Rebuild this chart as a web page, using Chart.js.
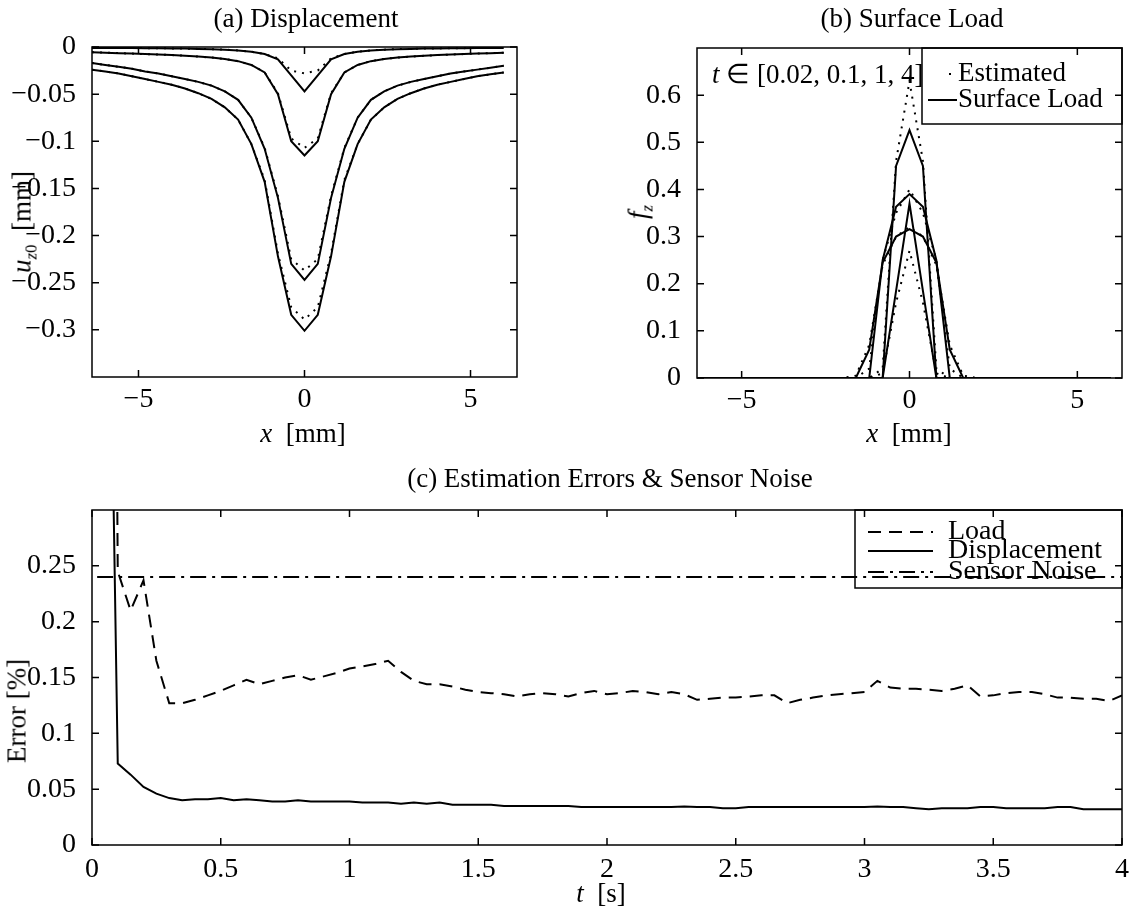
<!DOCTYPE html>
<html>
<head>
<meta charset="utf-8">
<script src="https://cdn.jsdelivr.net/npm/chart.js@4.4.1/dist/chart.umd.min.js"></script>
<style>
  body { margin: 0; background: #fff; width: 1130px; height: 920px; position: relative; overflow: hidden;
         font-family: "Liberation Serif", "Times New Roman", serif; color: #000; }
  canvas { position: absolute; }
  .lbl { position: absolute; transform: translate(-50%, -50%); white-space: nowrap; font-size: 27px; line-height: 1; }
  .rot { transform: translate(-50%, -50%) rotate(-90deg); }
  sub { font-size: 0.62em; vertical-align: -0.35em; line-height: 0; }
</style>
</head>
<body>
<canvas id="chartA" width="565" height="460" style="left:0;top:0"></canvas>
<canvas id="chartB" width="565" height="460" style="left:565px;top:0"></canvas>
<canvas id="chartC" width="1130" height="460" style="left:0;top:460px"></canvas>

<div class="lbl" style="left:306px;top:18px">(a) Displacement</div>
<div class="lbl" style="left:912px;top:18px">(b) Surface Load</div>
<div class="lbl" style="left:610px;top:478px">(c) Estimation Errors &amp; Sensor Noise</div>

<div class="lbl" style="left:303px;top:433px"><i>x</i>&nbsp;&nbsp;[mm]</div>
<div class="lbl" style="left:909px;top:433px"><i>x</i>&nbsp;&nbsp;[mm]</div>
<div class="lbl" style="left:601px;top:893px"><i>t</i>&nbsp;&nbsp;[s]</div>

<div class="lbl rot" style="left:22px;top:222px"><i>u</i><sub><i>z</i>0</sub>&nbsp;&nbsp;[mm]</div>
<div class="lbl rot" style="left:638px;top:212px"><i>f</i><sub><i>z</i></sub></div>
<div class="lbl rot" style="left:17px;top:711px">Error [%]</div>

<div class="lbl" style="left:712px;top:74px;transform:translate(0,-50%)"><i>t</i> ∈ [0.02, 0.1, 1, 4]</div>

<script>
// x positions shared by (a) and (b), mm
const xGrid = [-6.4,-6.0,-5.6,-5.2,-4.8,-4.4,-4.0,-3.6,-3.2,-2.8,-2.4,-2.0,-1.6,-1.2,-0.8,-0.4,0,0.4,0.8,1.2,1.6,2.0,2.4,2.8,3.2,3.6,4.0,4.4,4.8,5.2,5.6,6.0];

// (a) displacement u_z0 [mm] at t = 0.02, 0.1, 1, 4
const dispTrue002 = [-0.001,-0.001,-0.001,-0.0011,-0.0012,-0.0013,-0.0015,-0.0017,-0.002,-0.0023,-0.0028,-0.0036,-0.005,-0.0075,-0.013,-0.030,-0.047,-0.030,-0.013,-0.0075,-0.005,-0.0036,-0.0028,-0.0023,-0.002,-0.0017,-0.0015,-0.0013,-0.0012,-0.0011,-0.001,-0.001];
const dispEst002  = [-0.001,-0.001,-0.001,-0.0011,-0.0012,-0.0013,-0.0015,-0.0017,-0.002,-0.0023,-0.0028,-0.0036,-0.005,-0.0075,-0.012,-0.025,-0.028,-0.025,-0.012,-0.0075,-0.005,-0.0036,-0.0028,-0.0023,-0.002,-0.0017,-0.0015,-0.0013,-0.0012,-0.0011,-0.001,-0.001];
const dispTrue01  = [-0.0056,-0.006,-0.0065,-0.007,-0.0075,-0.008,-0.0086,-0.0093,-0.0102,-0.0112,-0.0127,-0.015,-0.019,-0.027,-0.050,-0.100,-0.115,-0.100,-0.050,-0.027,-0.019,-0.015,-0.0127,-0.0112,-0.0102,-0.0093,-0.0086,-0.008,-0.0075,-0.007,-0.0065,-0.006];
const dispEst01   = [-0.0056,-0.006,-0.0065,-0.007,-0.0075,-0.008,-0.0086,-0.0093,-0.0102,-0.0112,-0.0127,-0.015,-0.019,-0.027,-0.049,-0.097,-0.107,-0.097,-0.049,-0.027,-0.019,-0.015,-0.0127,-0.0112,-0.0102,-0.0093,-0.0086,-0.008,-0.0075,-0.007,-0.0065,-0.006];
const dispTrue1   = [-0.017,-0.019,-0.021,-0.023,-0.026,-0.028,-0.031,-0.034,-0.037,-0.041,-0.047,-0.056,-0.075,-0.108,-0.160,-0.230,-0.247,-0.230,-0.160,-0.108,-0.075,-0.056,-0.047,-0.041,-0.037,-0.034,-0.031,-0.028,-0.026,-0.024,-0.022,-0.020];
const dispEst1    = [-0.017,-0.019,-0.021,-0.023,-0.026,-0.028,-0.031,-0.034,-0.037,-0.041,-0.047,-0.056,-0.075,-0.107,-0.158,-0.225,-0.237,-0.225,-0.158,-0.107,-0.075,-0.056,-0.047,-0.041,-0.037,-0.034,-0.031,-0.028,-0.026,-0.024,-0.022,-0.020];
const dispTrue4   = [-0.024,-0.026,-0.028,-0.031,-0.034,-0.037,-0.040,-0.044,-0.049,-0.055,-0.064,-0.077,-0.103,-0.143,-0.222,-0.284,-0.301,-0.284,-0.222,-0.143,-0.103,-0.077,-0.064,-0.055,-0.049,-0.044,-0.040,-0.037,-0.034,-0.031,-0.029,-0.027];
const dispEst4    = [-0.024,-0.026,-0.028,-0.031,-0.034,-0.037,-0.040,-0.044,-0.049,-0.055,-0.064,-0.077,-0.103,-0.141,-0.219,-0.276,-0.289,-0.276,-0.219,-0.141,-0.103,-0.077,-0.064,-0.055,-0.049,-0.044,-0.040,-0.037,-0.034,-0.031,-0.029,-0.027];

// (b) surface load f_z at the same times
const loadTrue002 = [0,0,0,0,0,0,0,0,0,0,0,0,0,0,0,0.185,0.37,0.185,0,0,0,0,0,0,0,0,0,0,0,0,0,0];
const loadEst002  = [0,0,0,0,0,0,0,0,0,0,0,0,0,0,0.01,0.16,0.27,0.16,0.01,0,0,0,0,0,0,0,0,0,0,0,0,0];
const loadTrue01  = [0,0,0,0,0,0,0,0,0,0,0,0,0,0,0,0.45,0.526,0.45,0,0,0,0,0,0,0,0,0,0,0,0,0,0];
const loadEst01   = [0,0,0,0,0,0,0,0,0,0,0,0,0,0,0.02,0.46,0.63,0.46,0.02,0,0,0,0,0,0,0,0,0,0,0,0,0];
const loadTrue1   = [0,0,0,0,0,0,0,0,0,0,0,0,0,0,0.25,0.363,0.39,0.363,0.25,0,0,0,0,0,0,0,0,0,0,0,0,0];
const loadEst1    = [0,0,0,0,0,0,0,0,0,0,0,0,0,0.02,0.25,0.35,0.40,0.35,0.25,0.02,0,0,0,0,0,0,0,0,0,0,0,0];
const loadTrue4   = [0,0,0,0,0,0,0,0,0,0,0,0,0,0.06,0.245,0.30,0.316,0.30,0.245,0.06,0,0,0,0,0,0,0,0,0,0,0,0];
const loadEst4    = [0,0,0,0,0,0,0,0,0,0,0,0,0.005,0.07,0.24,0.30,0.32,0.30,0.24,0.07,0.005,0,0,0,0,0,0,0,0,0,0,0];

// (c) errors over time [s]
const timeS = [0.08,0.1,0.15,0.2,0.25,0.3,0.35,0.4,0.45,0.5,
  0.55,0.6,0.65,0.7,0.75,0.8,0.85,0.9,0.95,1.0,
  1.05,1.1,1.15,1.2,1.25,1.3,1.35,1.4,1.45,1.5,
  1.55,1.6,1.65,1.7,1.75,1.8,1.85,1.9,1.95,2.0,
  2.05,2.1,2.15,2.2,2.25,2.3,2.35,2.4,2.45,2.5,
  2.55,2.6,2.65,2.7,2.75,2.8,2.85,2.9,2.95,3.0,
  3.05,3.1,3.15,3.2,3.25,3.3,3.35,3.4,3.45,3.5,
  3.55,3.6,3.65,3.7,3.75,3.8,3.85,3.9,3.95,4.0];
const loadErr = [0.9,0.245,0.21,0.237,0.165,0.127,0.127,0.130,0.134,0.138,
  0.143,0.148,0.144,0.147,0.150,0.152,0.148,0.151,0.154,0.158,
  0.160,0.162,0.165,0.155,0.147,0.144,0.144,0.142,0.139,0.137,
  0.136,0.135,0.133,0.135,0.136,0.135,0.133,0.136,0.138,0.135,
  0.136,0.138,0.137,0.135,0.137,0.135,0.130,0.131,0.132,0.132,
  0.133,0.134,0.134,0.127,0.130,0.132,0.134,0.135,0.136,0.137,
  0.147,0.141,0.140,0.140,0.139,0.138,0.140,0.143,0.133,0.134,
  0.136,0.137,0.137,0.135,0.132,0.132,0.131,0.131,0.129,0.134];
const dispErr = [0.36,0.073,0.063,0.052,0.046,0.042,0.040,0.041,0.041,0.042,
  0.040,0.041,0.040,0.039,0.039,0.040,0.039,0.039,0.039,0.039,
  0.038,0.038,0.038,0.037,0.038,0.037,0.038,0.036,0.036,0.036,
  0.036,0.035,0.035,0.035,0.035,0.035,0.035,0.034,0.034,0.034,
  0.034,0.034,0.034,0.034,0.034,0.0345,0.034,0.034,0.033,0.033,
  0.034,0.034,0.034,0.034,0.034,0.034,0.034,0.034,0.034,0.034,
  0.0345,0.034,0.034,0.033,0.032,0.033,0.033,0.033,0.034,0.034,
  0.033,0.033,0.033,0.033,0.034,0.034,0.032,0.032,0.032,0.032];
const noiseT = [0.02, 4];
const noiseErr = [0.24, 0.24];

// tick values
const xTicksAB = [-5, 0, 5];
const yTicksA = [0, -0.05, -0.1, -0.15, -0.2, -0.25, -0.3];
const yTicksB = [0, 0.1, 0.2, 0.3, 0.4, 0.5, 0.6];
const xTicksC = [0, 0.5, 1, 1.5, 2, 2.5, 3, 3.5, 4];
const yTicksC = [0, 0.05, 0.1, 0.15, 0.2, 0.25];

const FONT = '"Liberation Serif", "Times New Roman", serif';
const DOTTED = [2, 6];
const DASHED = [13, 8];
const DASHDOT = [16, 6, 3, 6];

function pts(xs, ys) {
  return xs.map((x, i) => ({ x, y: ys[i] }));
}

function line(xs, ys, dash) {
  return {
    data: pts(xs, ys),
    borderColor: '#000',
    borderWidth: 2,
    borderDash: dash || [],
    pointRadius: 0,
    tension: 0,
    fill: false
  };
}

function fmt(v) {
  return String(v).replace('-', '\u2212');
}

// MATLAB style box with inward ticks on all four sides
const framePlugin = {
  id: 'frame',
  afterDatasetsDraw(chart) {
    const { ctx, chartArea: a, scales } = chart;
    const len = 7;
    ctx.save();
    ctx.strokeStyle = '#000';
    ctx.lineWidth = 1.5;
    ctx.setLineDash([]);
    ctx.strokeRect(a.left, a.top, a.right - a.left, a.bottom - a.top);
    ctx.beginPath();
    scales.x.ticks.forEach(t => {
      const p = scales.x.getPixelForValue(t.value);
      ctx.moveTo(p, a.bottom); ctx.lineTo(p, a.bottom - len);
      ctx.moveTo(p, a.top); ctx.lineTo(p, a.top + len);
    });
    scales.y.ticks.forEach(t => {
      const p = scales.y.getPixelForValue(t.value);
      ctx.moveTo(a.left, p); ctx.lineTo(a.left + len, p);
      ctx.moveTo(a.right, p); ctx.lineTo(a.right - len, p);
    });
    ctx.stroke();
    ctx.restore();
  }
};

// boxed legend in the top right corner of the plot
const boxLegend = {
  id: 'boxLegend',
  afterDraw(chart, args, opts) {
    if (!opts.items || !opts.items.length) return;
    const { ctx, chartArea: a } = chart;
    const x0 = a.right - opts.width;
    const y0 = a.top;
    ctx.save();
    ctx.strokeStyle = '#000';
    ctx.fillStyle = '#000';
    ctx.lineWidth = 1.5;
    ctx.strokeRect(x0, y0, opts.width, opts.height);
    ctx.font = opts.fontSize + 'px ' + FONT;
    ctx.textBaseline = 'middle';
    opts.items.forEach(it => {
      const ds = chart.data.datasets[it.dataset];
      const y = y0 + it.y;
      ctx.lineWidth = ds.borderWidth;
      ctx.setLineDash(ds.borderDash || []);
      ctx.beginPath();
      ctx.moveTo(x0 + it.from, y);
      ctx.lineTo(x0 + it.to, y);
      ctx.stroke();
      ctx.setLineDash([]);
      ctx.fillText(it.text, x0 + opts.textX, y);
    });
    ctx.restore();
  }
};

function makeOptions(cfg) {
  return {
    responsive: false,
    animation: false,
    layout: { padding: cfg.pad },
    plugins: {
      legend: { display: false },
      tooltip: { enabled: false },
      boxLegend: cfg.legend || { items: [] }
    },
    scales: {
      x: {
        type: 'linear',
        min: cfg.xMin, max: cfg.xMax,
        grid: { display: false },
        border: { display: false },
        ticks: { color: '#000', font: { family: FONT, size: 28 }, padding: cfg.xPad, callback: fmt, maxRotation: 0 },
        afterBuildTicks: s => { s.ticks = cfg.xTicks.map(v => ({ value: v })); },
        afterFit: s => { s.height = cfg.xHeight; }
      },
      y: {
        type: 'linear',
        min: cfg.yMin, max: cfg.yMax,
        grid: { display: false },
        border: { display: false },
        ticks: { color: '#000', font: { family: FONT, size: 28 }, padding: 8, callback: fmt },
        afterBuildTicks: s => { s.ticks = cfg.yTicks.map(v => ({ value: v })); },
        afterFit: s => { s.width = cfg.yWidth; }
      }
    }
  };
}

new Chart(document.getElementById('chartA'), {
  type: 'line',
  data: {
    datasets: [
      line(xGrid, dispEst002, DOTTED), line(xGrid, dispEst01, DOTTED),
      line(xGrid, dispEst1, DOTTED), line(xGrid, dispEst4, DOTTED),
      line(xGrid, dispTrue002), line(xGrid, dispTrue01),
      line(xGrid, dispTrue1), line(xGrid, dispTrue4)
    ]
  },
  options: makeOptions({
    xMin: -6.4, xMax: 6.4, yMin: -0.35, yMax: 0,
    xTicks: xTicksAB, yTicks: yTicksA,
    pad: { left: 0, top: 47, right: 48, bottom: 0 },
    yWidth: 92, xHeight: 83, xPad: -2
  }),
  plugins: [framePlugin, boxLegend]
});

new Chart(document.getElementById('chartB'), {
  type: 'line',
  data: {
    datasets: [
      line(xGrid, loadEst002, DOTTED), line(xGrid, loadEst01, DOTTED),
      line(xGrid, loadEst1, DOTTED), line(xGrid, loadEst4, DOTTED),
      line(xGrid, loadTrue002), line(xGrid, loadTrue01),
      line(xGrid, loadTrue1), line(xGrid, loadTrue4)
    ]
  },
  options: makeOptions({
    xMin: -6.33, xMax: 6.33, yMin: 0, yMax: 0.7,
    xTicks: xTicksAB, yTicks: yTicksB,
    pad: { left: 72, top: 48, right: 8, bottom: 0 },
    yWidth: 60, xHeight: 82, xPad: -2,
    legend: {
      width: 200, height: 76, textX: 36, fontSize: 27,
      items: [
        { dataset: 0, text: 'Estimated', y: 26, from: 27, to: 30 },
        { dataset: 4, text: 'Surface Load', y: 52, from: 6, to: 35 }
      ]
    }
  }),
  plugins: [framePlugin, boxLegend]
});

new Chart(document.getElementById('chartC'), {
  type: 'line',
  data: {
    datasets: [
      line(timeS, loadErr, DASHED),
      line(timeS, dispErr),
      line(noiseT, noiseErr, DASHDOT)
    ]
  },
  options: makeOptions({
    xMin: 0, xMax: 4, yMin: 0, yMax: 0.3,
    xTicks: xTicksC, yTicks: yTicksC,
    pad: { left: 0, top: 50, right: 8, bottom: 0 },
    yWidth: 92, xHeight: 75, xPad: 0,
    legend: {
      width: 267, height: 78, textX: 93, fontSize: 28,
      items: [
        { dataset: 0, text: 'Load', y: 22, from: 13, to: 78 },
        { dataset: 1, text: 'Displacement', y: 41, from: 13, to: 78 },
        { dataset: 2, text: 'Sensor Noise', y: 62, from: 13, to: 78 }
      ]
    }
  }),
  plugins: [framePlugin, boxLegend]
});
</script>
</body>
</html>
